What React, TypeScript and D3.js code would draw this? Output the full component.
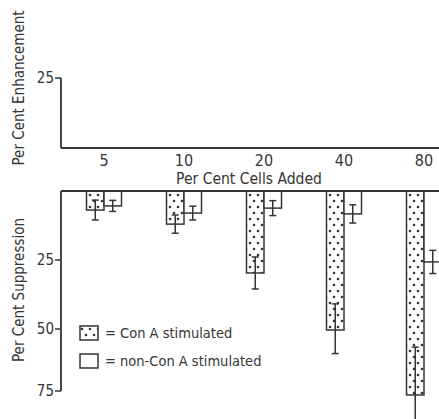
import React from "react";
import * as d3 from "d3";

// Per cent of cells added to the culture
const categories = ["5", "10", "20", "40", "80"];

// Per cent suppression, mean and error, by stimulation
const conAValues = [6.9, 12, 29.7, 50.4, 76.6];
const conAErrors = [3.6, 3.3, 5.8, 9.5, 19.3];
const nonConAValues = [5.4, 8, 6.2, 8.3, 25.7];
const nonConAErrors = [2, 2.5, 2.7, 3.3, 4.2];

const enhancementTicks = [25];
const suppressionTicks = [25, 50, 75];

const legendLabels = ["= Con A stimulated", "= non-Con A stimulated"];

const W = 439;
const H = 419;
const INK = "#353535";
const FONT = "'Liberation Sans Narrow', 'DejaVu Sans Condensed', 'Arial Narrow', sans-serif";

export default function App() {
  const axisX = 61;
  const x = d3.scalePoint<string>().domain(categories).range([104, 424]);
  const barW = 17.5;

  // upper panel: enhancement grows upward from the baseline
  const yUp = d3.scaleLinear().domain([0, 25]).range([148, 78]);
  // lower panel: suppression hangs downward from the top line
  const yDown = d3.scaleLinear().domain([0, 25, 50, 75]).range([191, 260, 329, 391]);

  const capW = 7;

  const errorBar = (cx: number, v: number, e: number, key: string) => {
    const y1 = yDown(v - e);
    const y2 = yDown(v + e);
    return (
      <g key={key} stroke={INK} strokeWidth={1.5}>
        <line x1={cx} x2={cx} y1={y1} y2={y2} />
        <line x1={cx - capW / 2} x2={cx + capW / 2} y1={y1} y2={y1} />
        <line x1={cx - capW / 2} x2={cx + capW / 2} y1={y2} y2={y2} />
      </g>
    );
  };

  return (
    <svg
      width={W}
      height={H}
      viewBox={`0 0 ${W} ${H}`}
      style={{ position: "absolute", left: 0, top: 0, background: "#fff" }}
      fontFamily={FONT}
    >
      <defs>
        <pattern id="stipple" width={8} height={12} patternUnits="userSpaceOnUse">
          <rect width={8} height={12} fill="#fff" />
          <circle cx={2} cy={3} r={1.3} fill={INK} />
          <circle cx={6} cy={9} r={1.3} fill={INK} />
        </pattern>
      </defs>

      {/* Upper panel: per cent enhancement */}
      <g>
        <line x1={axisX} x2={axisX} y1={yUp(25)} y2={yUp(0)} stroke={INK} strokeWidth={1.8} />
        <line x1={axisX} x2={W} y1={yUp(0)} y2={yUp(0)} stroke={INK} strokeWidth={1.8} />
        {enhancementTicks.map((t) => (
          <g key={t}>
            <line x1={axisX - 6} x2={axisX} y1={yUp(t)} y2={yUp(t)} stroke={INK} strokeWidth={1.5} />
            <text x={axisX - 7} y={yUp(t)} dy="0.35em" textAnchor="end" fontSize={15} fill={INK}>
              {t}
            </text>
          </g>
        ))}
        {categories.map((c) => (
          <text key={c} x={x(c)} y={166} textAnchor="middle" fontSize={16} fill={INK}>
            {c}
          </text>
        ))}
        <text x={249} y={184} textAnchor="middle" fontSize={15.5} fill={INK}>
          Per Cent Cells Added
        </text>
        <text
          transform={`translate(24, 88) rotate(-90)`}
          textAnchor="middle"
          fontSize={15}
          fill={INK}
        >
          Per Cent Enhancement
        </text>
      </g>

      {/* Lower panel: per cent suppression */}
      <g>
        {categories.map((c, i) => {
          const cx = x(c) as number;
          return (
            <g key={c}>
              <rect
                x={cx - barW}
                y={yDown(0)}
                width={barW}
                height={yDown(conAValues[i]) - yDown(0)}
                fill="url(#stipple)"
                stroke={INK}
                strokeWidth={1.5}
              />
              <rect
                x={cx}
                y={yDown(0)}
                width={barW}
                height={yDown(nonConAValues[i]) - yDown(0)}
                fill="#fff"
                stroke={INK}
                strokeWidth={1.5}
              />
              {errorBar(cx - barW / 2, conAValues[i], conAErrors[i], "a")}
              {errorBar(cx + barW / 2, nonConAValues[i], nonConAErrors[i], "b")}
            </g>
          );
        })}
        <line x1={axisX} x2={axisX} y1={yDown(0)} y2={yDown(75)} stroke={INK} strokeWidth={1.8} />
        <line x1={axisX} x2={W} y1={yDown(0)} y2={yDown(0)} stroke={INK} strokeWidth={1.8} />
        {suppressionTicks.map((t) => (
          <g key={t}>
            <line x1={axisX - 6} x2={axisX} y1={yDown(t)} y2={yDown(t)} stroke={INK} strokeWidth={1.5} />
            <text x={axisX - 7} y={yDown(t)} dy="0.35em" textAnchor="end" fontSize={15} fill={INK}>
              {t}
            </text>
          </g>
        ))}
        <text
          transform={`translate(24, 290) rotate(-90)`}
          textAnchor="middle"
          fontSize={15}
          fill={INK}
        >
          Per Cent Suppression
        </text>

        {/* Legend */}
        {legendLabels.map((label, i) => (
          <g key={label} transform={`translate(80, ${326 + i * 28})`}>
            <rect
              width={18}
              height={14}
              fill={i === 0 ? "url(#stipple)" : "#fff"}
              stroke={INK}
              strokeWidth={1.5}
            />
            <text x={25} y={7} dy="0.35em" fontSize={14.5} fill={INK}>
              {label}
            </text>
          </g>
        ))}
      </g>
    </svg>
  );
}
